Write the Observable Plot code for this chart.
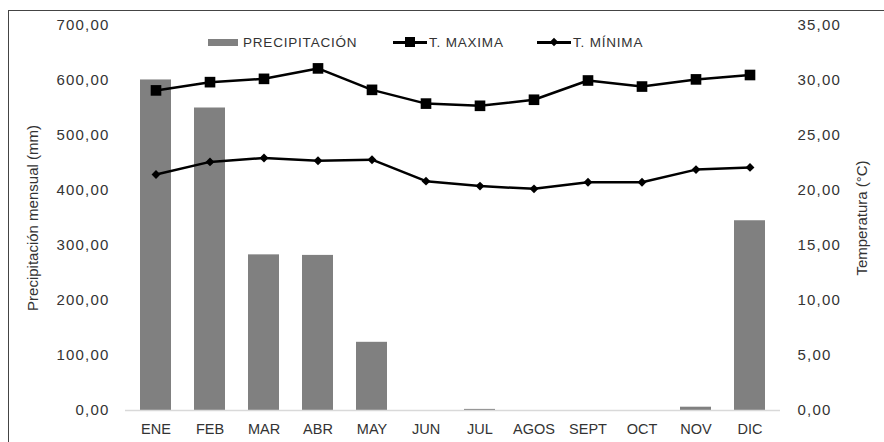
<!DOCTYPE html>
<html>
<head>
<meta charset="utf-8">
<script src="https://cdn.jsdelivr.net/npm/d3@7"></script>
<script src="https://cdn.jsdelivr.net/npm/@observablehq/plot@0.6"></script>
<style>
  html, body { margin: 0; padding: 0; background: #fff; }
  #wrap { position: relative; width: 884px; height: 442px; overflow: hidden; font-family: "Liberation Sans", Arial, sans-serif; }
  #frame { position: absolute; left: 8px; top: 10px; width: 1000px; height: 1000px; border-left: 1.5px solid #444; border-top: 1.5px solid #444; box-sizing: border-box; pointer-events: none; }
  .item { position: absolute; top: 35px; display: flex; align-items: center; font-size: 13.5px; letter-spacing: 0.8px; color: #333; white-space: nowrap; }
  .sw { position: relative; display: inline-block; }
  .ytick text { letter-spacing: 1.2px; }
</style>
</head>
<body>
<div id="wrap">
  <div id="chart"></div>
  <div id="frame"></div>
</div>
<script>
const months = ["ENE","FEB","MAR","ABR","MAY","JUN","JUL","AGOS","SEPT","OCT","NOV","DIC"];
const precipitacion = [601, 550, 283, 282, 124, 0, 2, 0, 0, 0, 6, 345];
const tMaxima = [29.1, 29.85, 30.15, 31.1, 29.15, 27.9, 27.7, 28.25, 30.0, 29.45, 30.1, 30.5];
const tMinima = [21.45, 22.6, 22.95, 22.7, 22.8, 20.85, 20.4, 20.15, 20.75, 20.75, 21.9, 22.1];
const precipTicks = [0, 100, 200, 300, 400, 500, 600, 700];
const tempTicks = [0, 5, 10, 15, 20, 25, 30, 35];
const seriesNames = ["PRECIPITACIÓN", "T. MAXIMA", "T. MÍNIMA"];

const ratio = 700 / 35; // temperature -> precipitation scale
const fmt = v => d3.format(".2f")(v).replace(".", ",");

const data = months.map((m, i) => ({month: m, p: precipitacion[i], tmax: tMaxima[i], tmin: tMinima[i]}));

const chart = Plot.plot({
  width: 884,
  height: 442,
  marginLeft: 125,
  marginRight: 104,
  marginTop: 25,
  marginBottom: 32,
  style: {fontFamily: "'Liberation Sans', Arial, sans-serif", fontSize: "14px", color: "#333", background: "transparent"},
  x: {domain: months, paddingInner: 0.43, paddingOuter: 0.215, label: null},
  y: {domain: [0, 700], label: null},
  marks: [
    Plot.barY(data, {x: "month", y: "p", fill: "#808080"}),
    Plot.ruleY([0], {stroke: "#d9d9d9", strokeWidth: 1.5}),
    Plot.line(data, {x: "month", y: d => d.tmax * ratio, stroke: "#000", strokeWidth: 2.5}),
    Plot.dot(data, {x: "month", y: d => d.tmax * ratio, symbol: "square", r: 6, fill: "#000"}),
    Plot.line(data, {x: "month", y: d => d.tmin * ratio, stroke: "#000", strokeWidth: 2.5}),
    Plot.dot(data, {x: "month", y: d => d.tmin * ratio, symbol: "diamond2", r: 4, fill: "#000"}),
    Plot.axisX({tickSize: 0, tickPadding: 13, fontSize: 14.5, label: null, className: "xtick"}),
    Plot.axisY({anchor: "left", ticks: precipTicks, tickFormat: fmt, tickSize: 0, tickPadding: 16, fontSize: 15, className: "ytick",
      label: "Precipitación mensual (mm)", labelAnchor: "center", labelArrow: "none", labelOffset: 98}),
    Plot.axisY({anchor: "right", ticks: tempTicks.map(t => t * ratio), tickFormat: d => fmt(d / ratio), tickSize: 0, tickPadding: 17, fontSize: 15, className: "ytick",
      label: "Temperatura (°C)", labelAnchor: "center", labelArrow: "none", labelOffset: 86})
  ]
});
document.getElementById("chart").appendChild(chart);
// keep axis titles without extra spacing
chart.querySelectorAll("text").forEach(t => {
  if (/Precipitación|Temperatura/.test(t.textContent)) t.style.letterSpacing = "0px";
});

// Legend
const wrap = document.getElementById("wrap");
const mk = (name, kind, left) => {
  const item = document.createElement("div");
  item.className = "item";
  item.style.left = left + "px";
  const sw = document.createElement("span");
  sw.className = "sw";
  if (kind === "bar") {
    sw.style.cssText = "width:30px;height:7px;background:#808080;margin-right:5px;";
  } else {
    sw.style.cssText = "width:34px;height:2.5px;background:#000;margin-right:2px;";
    const m = document.createElement("span");
    if (kind === "square") m.style.cssText = "position:absolute;left:12px;top:-4px;width:10px;height:10px;background:#000;";
    else m.style.cssText = "position:absolute;left:14px;top:-2.5px;width:6px;height:6px;background:#000;transform:rotate(45deg);";
    sw.appendChild(m);
  }
  const t = document.createElement("span");
  t.textContent = name;
  item.appendChild(sw);
  item.appendChild(t);
  wrap.appendChild(item);
};
mk(seriesNames[0], "bar", 208);
mk(seriesNames[1], "square", 393);
mk(seriesNames[2], "diamond", 537);
</script>
</body>
</html>
